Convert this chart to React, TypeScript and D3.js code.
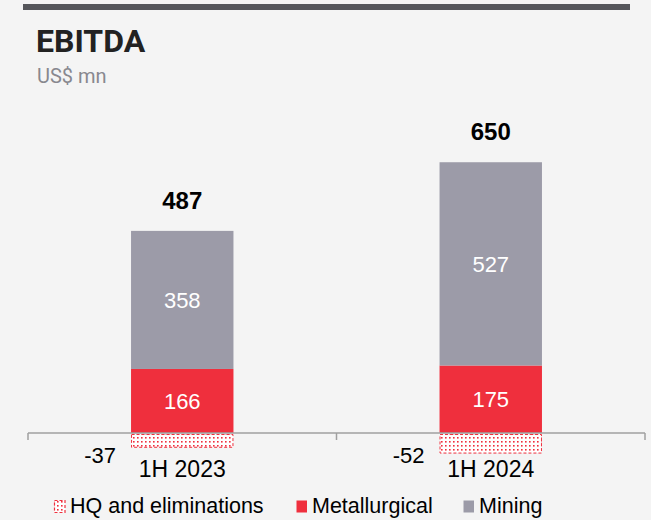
import * as d3 from "d3";
import { useEffect, useRef } from "react";

const periods = ["1H 2023", "1H 2024"];
const hq = [-37, -52];
const metallurgical = [166, 175];
const mining = [358, 527];
const totals = [487, 650];

const RED = "#ef2f3d";
const GREY = "#9c9ba8";

const App = () => {
  const ref = useRef<HTMLDivElement>(null);

  useEffect(() => {
    const width = 651;
    const height = 520;

    d3.select(ref.current).select("svg").remove();

    const svg = d3
      .select(ref.current)
      .append("svg")
      .attr("width", width)
      .attr("height", height)
      .style("position", "absolute")
      .style("left", "0px")
      .style("top", "0px");

    svg.append("rect").attr("width", width).attr("height", height).attr("fill", "#f4f4f4");

    const defs = svg.append("defs");
    const pat = defs
      .append("pattern")
      .attr("id", "hqdots")
      .attr("patternUnits", "userSpaceOnUse")
      .attr("width", 4)
      .attr("height", 4);
    pat.append("rect").attr("width", 4).attr("height", 4).attr("fill", "#ffffff");
    pat.append("rect").attr("x", 1).attr("y", 1).attr("width", 1.6).attr("height", 1.6).attr("fill", RED);

    // header
    svg.append("rect").attr("x", 23).attr("y", 4).attr("width", 607).attr("height", 6).attr("fill", "#55565b");
    svg.append("text")
      .attr("x", 36)
      .attr("y", 52)
      .attr("font-family", "Roboto")
      .attr("font-weight", "bold")
      .attr("font-size", "32px")
      .attr("fill", "#222")
      .text("EBITDA");
    svg.append("text")
      .attr("x", 37)
      .attr("y", 83)
      .attr("font-family", "Roboto")
      .attr("font-size", "20px")
      .attr("fill", "#88888f")
      .text("US$ mn");

    const x = d3.scaleBand().domain(periods).range([28, 645]).padding(0);
    const barW = x.bandwidth() * 0.332;
    const y = d3.scaleLinear().domain([0, 700]).range([433, 163]);

    const cx = (i: number) => (x(periods[i]) as number) + x.bandwidth() / 2;
    const font = "Liberation Sans, Arial, sans-serif";

    periods.forEach((p, i) => {
      const left = cx(i) - barW / 2;
      const top = metallurgical[i] + mining[i];
      // HQ negative
      svg.append("rect")
        .attr("x", left + 0.5)
        .attr("y", y(0) + 1.5)
        .attr("width", barW - 1)
        .attr("height", y(hq[i]) - y(0) - 1.5)
        .attr("fill", "url(#hqdots)")
        .attr("stroke", RED)
        .attr("stroke-width", 1)
        .attr("stroke-dasharray", "3,2");
      // metallurgical
      svg.append("rect")
        .attr("x", left)
        .attr("y", y(metallurgical[i]))
        .attr("width", barW)
        .attr("height", y(0) - y(metallurgical[i]))
        .attr("fill", RED);
      // mining
      svg.append("rect")
        .attr("x", left)
        .attr("y", y(top))
        .attr("width", barW)
        .attr("height", y(metallurgical[i]) - y(top))
        .attr("fill", GREY);

      svg.append("text")
        .attr("x", cx(i))
        .attr("y", (y(0) + y(metallurgical[i])) / 2)
        .attr("dy", "0.36em")
        .attr("text-anchor", "middle")
        .attr("font-family", font)
        .attr("font-size", "22px")
        .attr("fill", "#fff")
        .text(metallurgical[i]);
      svg.append("text")
        .attr("x", cx(i))
        .attr("y", (y(metallurgical[i]) + y(top)) / 2)
        .attr("dy", "0.36em")
        .attr("text-anchor", "middle")
        .attr("font-family", font)
        .attr("font-size", "22px")
        .attr("fill", "#fff")
        .text(mining[i]);

      svg.append("text")
        .attr("x", cx(i))
        .attr("y", y(top) - 22)
        .attr("text-anchor", "middle")
        .attr("font-family", font)
        .attr("font-weight", "bold")
        .attr("font-size", "24px")
        .attr("fill", "#000")
        .text(totals[i]);

      svg.append("text")
        .attr("x", left - 15)
        .attr("y", y(0) + 30)
        .attr("text-anchor", "end")
        .attr("font-family", font)
        .attr("font-size", "22px")
        .attr("fill", "#000")
        .text(hq[i]);
    });

    // axis
    const axis = svg.append("g");
    axis.append("line")
      .attr("x1", 28).attr("x2", 645)
      .attr("y1", y(0)).attr("y2", y(0))
      .attr("stroke", "#a0a0a0").attr("stroke-width", 1.5);
    const edges = [...periods.map((p) => x(p) as number), 645];
    axis.selectAll(".tick")
      .data(edges)
      .enter()
      .append("line")
      .attr("x1", (d) => d).attr("x2", (d) => d)
      .attr("y1", y(0)).attr("y2", y(0) + 7)
      .attr("stroke", "#a0a0a0").attr("stroke-width", 1.5);

    periods.forEach((p, i) => {
      svg.append("text")
        .attr("x", cx(i))
        .attr("y", 477)
        .attr("text-anchor", "middle")
        .attr("font-family", font)
        .attr("font-size", "23px")
        .attr("fill", "#000")
        .text(p);
    });

    // legend
    const legend = [
      { label: "HQ and eliminations", x: 54, fill: "url(#hqdots)", dashed: true },
      { label: "Metallurgical", x: 296, fill: RED, dashed: false },
      { label: "Mining", x: 463, fill: GREY, dashed: false },
    ];
    legend.forEach((l) => {
      const r = svg.append("rect")
        .attr("x", l.x + 0.5)
        .attr("y", 500.5)
        .attr("width", 10.5)
        .attr("height", 12)
        .attr("fill", l.fill);
      if (l.dashed) r.attr("stroke", RED).attr("stroke-width", 1.2).attr("stroke-dasharray", "3,2");
      svg.append("text")
        .attr("x", l.x + 16)
        .attr("y", 513)
        .attr("font-family", font)
        .attr("font-size", "21.5px")
        .attr("fill", "#000")
        .text(l.label);
    });
  }, []);

  return <div ref={ref}></div>;
};

export default App;
